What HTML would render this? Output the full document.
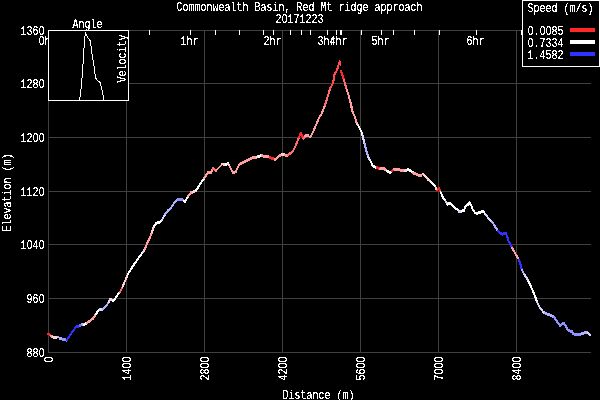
<!DOCTYPE html>
<html><head><meta charset="utf-8"><title>Commonwealth Basin, Red Mt ridge approach</title>
<style>html,body{margin:0;padding:0;background:#000;overflow:hidden;width:600px;height:400px}
svg{display:block;will-change:transform}
text{font-family:"Liberation Mono",monospace}</style></head>
<body>
<svg width="600" height="400" viewBox="0 0 600 400">
<defs><filter id="crisp" filterUnits="userSpaceOnUse" x="0" y="0" width="600" height="400"><feComponentTransfer><feFuncA type="discrete" tableValues="0 0 0 0 0 0 0 0 0 0 0 0 0 0 0 0 0 0 0 0 0 0 0 0 0 0 0 0 0 0 0 0 0 0 0 0 0 0 0 0 0 0 1 1 1 1 1 1 1 1 1 1 1 1 1 1 1 1 1 1 1 1 1 1 1 1 1 1 1 1 1 1 1 1 1 1 1 1 1 1 1 1 1 1 1 1 1 1 1 1 1 1 1 1 1 1 1 1 1 1"/></feComponentTransfer></filter></defs>
<rect x="0" y="0" width="600" height="400" fill="#000"/>
<path d="M126.5 30V352 M204.5 30V352 M282.5 30V352 M360.5 30V352 M438.5 30V352 M516.5 30V352 M48 83.5H591 M48 137.5H591 M48 191.5H591 M48 244.5H591 M48 298.5H591 M48.5 30V353 M48 352.5H591 M48 30.5H522" stroke="#404040" stroke-width="1" fill="none"/>
<path d="M149.5 30V35 M190.5 30V35 M215.5 30V35 M239.5 30V35 M263.5 30V35 M273.5 30V35 M290.5 30V35 M301.5 30V35 M310.5 30V35 M327.5 30V35 M336.5 30V35 M340.5 30V35 M341.5 30V35 M361.5 30V35 M381.5 30V35 M393.5 30V35 M414.5 30V35 M439.5 30V35 M476.5 30V35 M521.5 30V35" stroke="#fff" stroke-width="1" fill="none"/>
<g stroke-width="2.5" stroke-linecap="round" fill="none" shape-rendering="crispEdges">
<line x1="48.50" y1="334.00" x2="51.00" y2="336.00" stroke="rgb(255,40,40)" stroke-width="2.34"/>
<line x1="51.00" y1="336.00" x2="53.00" y2="337.00" stroke="rgb(255,160,160)" stroke-width="2.68"/>
<line x1="53.00" y1="337.00" x2="57.00" y2="337.00" stroke="rgb(255,210,210)" stroke-width="3.00"/>
<line x1="58.00" y1="336.50" x2="60.00" y2="338.50" stroke="rgb(175,175,255)" stroke-width="2.00"/>
<line x1="60.00" y1="338.50" x2="63.00" y2="339.50" stroke="rgb(175,175,255)" stroke-width="2.85"/>
<line x1="63.00" y1="339.50" x2="66.00" y2="340.00" stroke="rgb(145,145,255)" stroke-width="2.96"/>
<line x1="66.00" y1="340.00" x2="67.00" y2="340.00" stroke="rgb(145,145,255)" stroke-width="3.00"/>
<line x1="67.00" y1="340.00" x2="70.00" y2="335.00" stroke="rgb(50,50,255)" stroke-width="2.00"/>
<line x1="70.00" y1="335.00" x2="73.00" y2="331.00" stroke="rgb(50,50,255)" stroke-width="2.00"/>
<line x1="73.00" y1="331.00" x2="76.00" y2="327.00" stroke="rgb(50,50,255)" stroke-width="2.00"/>
<line x1="76.00" y1="327.00" x2="80.00" y2="325.50" stroke="rgb(50,50,255)" stroke-width="2.81"/>
<line x1="80.00" y1="325.50" x2="82.00" y2="324.00" stroke="rgb(110,110,255)" stroke-width="2.40"/>
<line x1="82.00" y1="324.00" x2="84.00" y2="325.00" stroke="rgb(175,175,255)" stroke-width="2.68"/>
<line x1="84.00" y1="325.00" x2="87.00" y2="323.00" stroke="rgb(255,255,255)" stroke-width="2.50"/>
<line x1="87.00" y1="323.00" x2="90.00" y2="321.00" stroke="rgb(255,160,160)" stroke-width="2.50"/>
<line x1="90.00" y1="321.00" x2="93.00" y2="318.50" stroke="rgb(255,160,160)" stroke-width="2.30"/>
<line x1="93.00" y1="318.50" x2="96.00" y2="314.00" stroke="rgb(255,160,160)" stroke-width="2.00"/>
<line x1="96.00" y1="314.00" x2="98.00" y2="311.00" stroke="rgb(255,255,255)" stroke-width="2.00"/>
<line x1="98.00" y1="311.00" x2="100.00" y2="309.50" stroke="rgb(255,255,255)" stroke-width="2.40"/>
<line x1="100.00" y1="309.50" x2="103.00" y2="309.00" stroke="rgb(215,215,255)" stroke-width="2.96"/>
<line x1="103.00" y1="309.00" x2="106.00" y2="306.00" stroke="rgb(175,175,255)" stroke-width="2.00"/>
<line x1="106.00" y1="306.00" x2="109.00" y2="302.00" stroke="rgb(175,175,255)" stroke-width="2.00"/>
<line x1="109.00" y1="302.00" x2="110.00" y2="299.00" stroke="rgb(215,215,255)" stroke-width="2.09"/>
<line x1="110.00" y1="299.00" x2="113.00" y2="301.00" stroke="rgb(255,210,210)" stroke-width="2.50"/>
<line x1="113.00" y1="301.00" x2="116.00" y2="297.50" stroke="rgb(255,255,255)" stroke-width="2.00"/>
<line x1="116.00" y1="297.50" x2="118.00" y2="294.00" stroke="rgb(255,255,255)" stroke-width="2.00"/>
<line x1="118.00" y1="294.00" x2="120.00" y2="292.00" stroke="rgb(255,255,255)" stroke-width="2.00"/>
<line x1="120.00" y1="292.00" x2="122.50" y2="287.00" stroke="rgb(255,110,110)" stroke-width="2.00"/>
<line x1="122.50" y1="287.00" x2="124.00" y2="283.00" stroke="rgb(255,210,210)" stroke-width="2.06"/>
<line x1="124.00" y1="283.00" x2="125.00" y2="281.00" stroke="rgb(255,210,210)" stroke-width="2.00"/>
<line x1="125.00" y1="281.00" x2="128.00" y2="274.00" stroke="rgb(255,210,210)" stroke-width="2.02"/>
<line x1="128.00" y1="274.00" x2="132.00" y2="267.50" stroke="rgb(255,255,255)" stroke-width="2.00"/>
<line x1="132.00" y1="267.50" x2="135.00" y2="263.00" stroke="rgb(255,255,255)" stroke-width="2.00"/>
<line x1="135.00" y1="263.00" x2="140.00" y2="256.00" stroke="rgb(255,255,255)" stroke-width="2.00"/>
<line x1="140.00" y1="256.00" x2="143.00" y2="252.00" stroke="rgb(255,255,255)" stroke-width="2.00"/>
<line x1="143.00" y1="252.00" x2="145.00" y2="249.00" stroke="rgb(215,215,255)" stroke-width="2.00"/>
<line x1="145.00" y1="249.00" x2="147.00" y2="243.50" stroke="rgb(255,160,160)" stroke-width="2.07"/>
<line x1="147.00" y1="243.50" x2="149.50" y2="238.50" stroke="rgb(255,160,160)" stroke-width="2.00"/>
<line x1="149.50" y1="238.50" x2="152.00" y2="232.00" stroke="rgb(255,160,160)" stroke-width="2.05"/>
<line x1="152.00" y1="232.00" x2="154.00" y2="226.00" stroke="rgb(255,210,210)" stroke-width="2.09"/>
<line x1="154.00" y1="226.00" x2="156.00" y2="223.50" stroke="rgb(255,255,255)" stroke-width="2.00"/>
<line x1="156.00" y1="223.50" x2="159.00" y2="222.50" stroke="rgb(255,255,255)" stroke-width="2.85"/>
<line x1="159.00" y1="222.50" x2="162.00" y2="220.00" stroke="rgb(255,255,255)" stroke-width="2.30"/>
<line x1="162.00" y1="220.00" x2="165.00" y2="214.50" stroke="rgb(215,215,255)" stroke-width="2.00"/>
<line x1="165.00" y1="214.50" x2="168.00" y2="210.50" stroke="rgb(175,175,255)" stroke-width="2.00"/>
<line x1="168.00" y1="210.50" x2="171.00" y2="208.00" stroke="rgb(175,175,255)" stroke-width="2.30"/>
<line x1="171.00" y1="208.00" x2="173.00" y2="204.50" stroke="rgb(175,175,255)" stroke-width="2.00"/>
<line x1="173.00" y1="204.50" x2="176.00" y2="201.00" stroke="rgb(175,175,255)" stroke-width="2.00"/>
<line x1="176.00" y1="201.00" x2="178.00" y2="199.50" stroke="rgb(175,175,255)" stroke-width="2.40"/>
<line x1="178.00" y1="199.50" x2="181.00" y2="199.00" stroke="rgb(145,145,255)" stroke-width="2.96"/>
<line x1="181.00" y1="199.00" x2="184.00" y2="201.00" stroke="rgb(145,145,255)" stroke-width="2.50"/>
<line x1="184.00" y1="201.00" x2="185.00" y2="201.50" stroke="rgb(255,255,255)" stroke-width="2.68"/>
<line x1="185.00" y1="201.50" x2="188.00" y2="196.50" stroke="rgb(255,255,255)" stroke-width="2.00"/>
<line x1="188.00" y1="196.50" x2="191.00" y2="192.50" stroke="rgb(255,160,160)" stroke-width="2.00"/>
<line x1="191.00" y1="192.50" x2="193.00" y2="192.00" stroke="rgb(255,160,160)" stroke-width="2.91"/>
<line x1="193.00" y1="192.00" x2="196.00" y2="190.50" stroke="rgb(255,210,210)" stroke-width="2.68"/>
<line x1="196.00" y1="190.50" x2="198.00" y2="187.50" stroke="rgb(255,255,255)" stroke-width="2.00"/>
<line x1="198.00" y1="187.50" x2="200.50" y2="183.50" stroke="rgb(255,255,255)" stroke-width="2.00"/>
<line x1="200.50" y1="183.50" x2="204.00" y2="178.50" stroke="rgb(255,255,255)" stroke-width="2.00"/>
<line x1="204.00" y1="178.50" x2="208.00" y2="172.50" stroke="rgb(255,160,160)" stroke-width="2.00"/>
<line x1="208.00" y1="172.50" x2="211.00" y2="173.00" stroke="rgb(255,160,160)" stroke-width="2.96"/>
<line x1="211.00" y1="173.00" x2="213.00" y2="168.50" stroke="rgb(255,160,160)" stroke-width="2.01"/>
<line x1="213.00" y1="168.50" x2="216.00" y2="170.50" stroke="rgb(255,110,110)" stroke-width="2.50"/>
<line x1="216.00" y1="170.50" x2="219.00" y2="167.50" stroke="rgb(255,160,160)" stroke-width="2.00"/>
<line x1="219.00" y1="167.50" x2="222.50" y2="164.00" stroke="rgb(255,160,160)" stroke-width="2.00"/>
<line x1="222.50" y1="164.00" x2="226.00" y2="164.50" stroke="rgb(255,210,210)" stroke-width="2.97"/>
<line x1="226.00" y1="164.50" x2="228.00" y2="163.50" stroke="rgb(255,255,255)" stroke-width="2.68"/>
<line x1="228.00" y1="163.50" x2="230.00" y2="167.00" stroke="rgb(255,210,210)" stroke-width="2.00"/>
<line x1="230.00" y1="167.00" x2="232.00" y2="171.00" stroke="rgb(255,160,160)" stroke-width="2.00"/>
<line x1="232.00" y1="171.00" x2="233.00" y2="173.00" stroke="rgb(255,160,160)" stroke-width="2.00"/>
<line x1="233.00" y1="173.00" x2="235.50" y2="172.00" stroke="rgb(255,160,160)" stroke-width="2.79"/>
<line x1="235.50" y1="172.00" x2="239.00" y2="165.00" stroke="rgb(255,160,160)" stroke-width="2.00"/>
<line x1="239.00" y1="165.00" x2="240.50" y2="163.50" stroke="rgb(255,160,160)" stroke-width="2.00"/>
<line x1="240.50" y1="163.50" x2="245.00" y2="161.50" stroke="rgb(255,160,160)" stroke-width="2.74"/>
<line x1="245.00" y1="161.50" x2="249.50" y2="159.50" stroke="rgb(255,160,160)" stroke-width="2.74"/>
<line x1="249.50" y1="159.50" x2="253.00" y2="157.50" stroke="rgb(255,160,160)" stroke-width="2.60"/>
<line x1="253.00" y1="157.50" x2="257.00" y2="157.00" stroke="rgb(255,160,160)" stroke-width="2.98"/>
<line x1="257.00" y1="157.00" x2="259.00" y2="156.50" stroke="rgb(255,210,210)" stroke-width="2.91"/>
<line x1="259.00" y1="156.50" x2="262.00" y2="155.50" stroke="rgb(255,255,255)" stroke-width="2.85"/>
<line x1="262.00" y1="155.50" x2="264.00" y2="156.50" stroke="rgb(255,160,160)" stroke-width="2.68"/>
<line x1="264.00" y1="156.50" x2="267.00" y2="156.50" stroke="rgb(255,160,160)" stroke-width="3.00"/>
<line x1="267.00" y1="156.50" x2="270.00" y2="157.50" stroke="rgb(255,160,160)" stroke-width="2.85"/>
<line x1="270.00" y1="157.50" x2="273.00" y2="158.75" stroke="rgb(255,40,40)" stroke-width="2.77"/>
<line x1="273.00" y1="158.75" x2="275.00" y2="159.50" stroke="rgb(255,40,40)" stroke-width="2.81"/>
<line x1="275.00" y1="159.50" x2="278.00" y2="157.00" stroke="rgb(255,160,160)" stroke-width="2.30"/>
<line x1="278.00" y1="157.00" x2="282.00" y2="154.00" stroke="rgb(255,160,160)" stroke-width="2.40"/>
<line x1="282.00" y1="154.00" x2="285.00" y2="155.00" stroke="rgb(255,210,210)" stroke-width="2.85"/>
<line x1="285.00" y1="155.00" x2="288.00" y2="155.00" stroke="rgb(255,160,160)" stroke-width="3.00"/>
<line x1="288.00" y1="155.00" x2="291.00" y2="153.00" stroke="rgb(255,110,110)" stroke-width="2.50"/>
<line x1="291.00" y1="153.00" x2="293.00" y2="151.00" stroke="rgb(255,110,110)" stroke-width="2.00"/>
<line x1="293.00" y1="151.00" x2="295.00" y2="147.00" stroke="rgb(255,110,110)" stroke-width="2.00"/>
<line x1="295.00" y1="147.00" x2="297.00" y2="142.50" stroke="rgb(255,110,110)" stroke-width="2.01"/>
<line x1="297.00" y1="142.50" x2="299.00" y2="137.50" stroke="rgb(255,110,110)" stroke-width="2.04"/>
<line x1="299.00" y1="137.50" x2="300.00" y2="134.50" stroke="rgb(255,40,40)" stroke-width="2.09"/>
<line x1="300.00" y1="134.50" x2="301.00" y2="132.50" stroke="rgb(255,40,40)" stroke-width="2.00"/>
<line x1="301.00" y1="132.50" x2="302.00" y2="135.50" stroke="rgb(255,40,40)" stroke-width="2.09"/>
<line x1="302.00" y1="135.50" x2="303.50" y2="138.50" stroke="rgb(255,40,40)" stroke-width="2.00"/>
<line x1="303.50" y1="138.50" x2="305.50" y2="136.00" stroke="rgb(255,110,110)" stroke-width="2.00"/>
<line x1="305.50" y1="136.00" x2="308.00" y2="135.50" stroke="rgb(255,160,160)" stroke-width="2.94"/>
<line x1="308.00" y1="135.50" x2="310.00" y2="137.50" stroke="rgb(255,160,160)" stroke-width="2.00"/>
<line x1="310.00" y1="137.50" x2="312.50" y2="133.00" stroke="rgb(255,160,160)" stroke-width="2.00"/>
<line x1="312.50" y1="133.00" x2="314.50" y2="128.50" stroke="rgb(255,160,160)" stroke-width="2.01"/>
<line x1="314.50" y1="128.50" x2="319.00" y2="118.00" stroke="rgb(255,160,160)" stroke-width="2.02"/>
<line x1="319.00" y1="118.00" x2="322.00" y2="113.00" stroke="rgb(255,160,160)" stroke-width="2.00"/>
<line x1="322.00" y1="113.00" x2="325.00" y2="105.00" stroke="rgb(255,160,160)" stroke-width="2.06"/>
<line x1="325.00" y1="105.00" x2="328.50" y2="94.00" stroke="rgb(255,110,110)" stroke-width="2.10"/>
<line x1="328.50" y1="94.00" x2="330.00" y2="88.50" stroke="rgb(255,110,110)" stroke-width="2.12"/>
<line x1="330.00" y1="88.50" x2="332.50" y2="84.00" stroke="rgb(255,75,75)" stroke-width="2.00"/>
<line x1="332.50" y1="84.00" x2="333.80" y2="79.00" stroke="rgb(255,75,75)" stroke-width="2.13"/>
<line x1="333.80" y1="79.00" x2="334.50" y2="74.00" stroke="rgb(255,75,75)" stroke-width="2.18"/>
<line x1="334.50" y1="74.00" x2="336.50" y2="71.00" stroke="rgb(255,75,75)" stroke-width="2.00"/>
<line x1="336.50" y1="71.00" x2="338.00" y2="67.00" stroke="rgb(255,75,75)" stroke-width="2.06"/>
<line x1="338.00" y1="67.00" x2="339.00" y2="63.00" stroke="rgb(255,75,75)" stroke-width="2.13"/>
<line x1="339.00" y1="63.00" x2="339.70" y2="61.50" stroke="rgb(255,75,75)" stroke-width="2.00"/>
<line x1="339.70" y1="61.50" x2="340.50" y2="64.50" stroke="rgb(255,75,75)" stroke-width="2.13"/>
<line x1="341.00" y1="71.00" x2="342.50" y2="75.50" stroke="rgb(255,40,40)" stroke-width="2.09"/>
<line x1="342.50" y1="75.50" x2="344.00" y2="80.00" stroke="rgb(255,40,40)" stroke-width="2.09"/>
<line x1="344.00" y1="80.00" x2="345.00" y2="84.00" stroke="rgb(255,110,110)" stroke-width="2.13"/>
<line x1="345.00" y1="84.00" x2="346.50" y2="89.00" stroke="rgb(255,110,110)" stroke-width="2.11"/>
<line x1="346.50" y1="89.00" x2="348.50" y2="95.00" stroke="rgb(255,160,160)" stroke-width="2.09"/>
<line x1="348.50" y1="95.00" x2="350.00" y2="101.00" stroke="rgb(255,160,160)" stroke-width="2.13"/>
<line x1="350.00" y1="101.00" x2="351.20" y2="105.00" stroke="rgb(255,160,160)" stroke-width="2.11"/>
<line x1="351.20" y1="105.00" x2="352.00" y2="110.00" stroke="rgb(255,160,160)" stroke-width="2.17"/>
<line x1="352.00" y1="110.00" x2="353.50" y2="114.00" stroke="rgb(255,160,160)" stroke-width="2.06"/>
<line x1="353.50" y1="114.00" x2="355.00" y2="117.00" stroke="rgb(255,160,160)" stroke-width="2.00"/>
<line x1="355.00" y1="117.00" x2="356.00" y2="121.00" stroke="rgb(255,160,160)" stroke-width="2.13"/>
<line x1="356.00" y1="121.00" x2="357.00" y2="124.00" stroke="rgb(255,160,160)" stroke-width="2.09"/>
<line x1="357.00" y1="124.00" x2="358.50" y2="126.00" stroke="rgb(255,210,210)" stroke-width="2.00"/>
<line x1="358.50" y1="126.00" x2="360.00" y2="129.00" stroke="rgb(255,255,255)" stroke-width="2.00"/>
<line x1="360.00" y1="129.00" x2="361.50" y2="132.00" stroke="rgb(255,255,255)" stroke-width="2.00"/>
<line x1="361.50" y1="132.00" x2="362.50" y2="135.50" stroke="rgb(255,255,255)" stroke-width="2.12"/>
<line x1="362.50" y1="135.50" x2="364.60" y2="143.50" stroke="rgb(215,215,255)" stroke-width="2.13"/>
<line x1="364.60" y1="143.50" x2="366.20" y2="150.00" stroke="rgb(175,175,255)" stroke-width="2.14"/>
<line x1="366.20" y1="150.00" x2="368.00" y2="156.50" stroke="rgb(175,175,255)" stroke-width="2.12"/>
<line x1="368.00" y1="156.50" x2="370.20" y2="160.50" stroke="rgb(215,215,255)" stroke-width="2.00"/>
<line x1="370.20" y1="160.50" x2="372.40" y2="165.00" stroke="rgb(255,255,255)" stroke-width="2.00"/>
<line x1="372.40" y1="165.00" x2="374.00" y2="166.50" stroke="rgb(255,255,255)" stroke-width="2.19"/>
<line x1="374.00" y1="166.50" x2="377.00" y2="167.70" stroke="rgb(255,255,255)" stroke-width="2.79"/>
<line x1="377.00" y1="167.70" x2="380.00" y2="169.00" stroke="rgb(255,40,40)" stroke-width="2.75"/>
<line x1="380.00" y1="169.00" x2="384.00" y2="168.80" stroke="rgb(255,160,160)" stroke-width="3.00"/>
<line x1="384.00" y1="168.80" x2="387.00" y2="171.00" stroke="rgb(255,160,160)" stroke-width="2.42"/>
<line x1="387.00" y1="171.00" x2="390.00" y2="173.00" stroke="rgb(255,255,255)" stroke-width="2.50"/>
<line x1="390.00" y1="173.00" x2="392.00" y2="171.00" stroke="rgb(255,255,255)" stroke-width="2.00"/>
<line x1="392.00" y1="171.00" x2="394.00" y2="169.00" stroke="rgb(255,40,40)" stroke-width="2.00"/>
<line x1="394.00" y1="169.00" x2="400.00" y2="170.00" stroke="rgb(255,160,160)" stroke-width="2.96"/>
<line x1="400.00" y1="170.00" x2="405.00" y2="171.00" stroke="rgb(255,160,160)" stroke-width="2.94"/>
<line x1="405.00" y1="171.00" x2="408.00" y2="169.50" stroke="rgb(255,210,210)" stroke-width="2.68"/>
<line x1="408.00" y1="169.50" x2="411.50" y2="171.50" stroke="rgb(255,255,255)" stroke-width="2.60"/>
<line x1="411.50" y1="171.50" x2="413.50" y2="173.00" stroke="rgb(255,255,255)" stroke-width="2.40"/>
<line x1="413.50" y1="173.00" x2="417.00" y2="174.50" stroke="rgb(255,160,160)" stroke-width="2.76"/>
<line x1="417.00" y1="174.50" x2="420.50" y2="176.00" stroke="rgb(255,160,160)" stroke-width="2.76"/>
<line x1="420.50" y1="176.00" x2="423.00" y2="173.50" stroke="rgb(255,160,160)" stroke-width="2.00"/>
<line x1="423.00" y1="173.50" x2="425.00" y2="176.00" stroke="rgb(255,210,210)" stroke-width="2.00"/>
<line x1="425.00" y1="176.00" x2="428.00" y2="179.50" stroke="rgb(255,210,210)" stroke-width="2.00"/>
<line x1="428.00" y1="179.50" x2="431.00" y2="182.00" stroke="rgb(255,210,210)" stroke-width="2.30"/>
<line x1="431.00" y1="182.00" x2="433.00" y2="184.00" stroke="rgb(255,255,255)" stroke-width="2.00"/>
<line x1="433.00" y1="184.00" x2="435.50" y2="187.00" stroke="rgb(255,255,255)" stroke-width="2.00"/>
<line x1="435.50" y1="187.00" x2="437.00" y2="190.50" stroke="rgb(255,210,210)" stroke-width="2.02"/>
<line x1="437.00" y1="190.50" x2="439.00" y2="188.00" stroke="rgb(255,40,40)" stroke-width="2.00"/>
<line x1="439.00" y1="188.00" x2="440.50" y2="192.00" stroke="rgb(255,40,40)" stroke-width="2.06"/>
<line x1="440.50" y1="192.00" x2="443.00" y2="197.50" stroke="rgb(255,255,255)" stroke-width="2.00"/>
<line x1="443.00" y1="197.50" x2="445.60" y2="201.00" stroke="rgb(255,255,255)" stroke-width="2.00"/>
<line x1="445.60" y1="201.00" x2="447.50" y2="204.40" stroke="rgb(215,215,255)" stroke-width="2.00"/>
<line x1="447.50" y1="204.40" x2="449.40" y2="203.00" stroke="rgb(255,255,255)" stroke-width="2.42"/>
<line x1="449.40" y1="203.00" x2="452.00" y2="205.00" stroke="rgb(255,255,255)" stroke-width="2.38"/>
<line x1="452.00" y1="205.00" x2="454.00" y2="207.00" stroke="rgb(255,255,255)" stroke-width="2.00"/>
<line x1="454.00" y1="207.00" x2="457.00" y2="209.40" stroke="rgb(255,255,255)" stroke-width="2.34"/>
<line x1="457.00" y1="209.40" x2="459.00" y2="211.25" stroke="rgb(255,255,255)" stroke-width="2.20"/>
<line x1="459.00" y1="211.25" x2="462.00" y2="211.00" stroke="rgb(215,215,255)" stroke-width="2.99"/>
<line x1="462.00" y1="211.00" x2="464.00" y2="210.25" stroke="rgb(255,255,255)" stroke-width="2.81"/>
<line x1="464.00" y1="210.25" x2="465.60" y2="206.25" stroke="rgb(255,255,255)" stroke-width="2.04"/>
<line x1="465.60" y1="206.25" x2="467.50" y2="205.00" stroke="rgb(255,255,255)" stroke-width="2.51"/>
<line x1="467.50" y1="205.00" x2="469.40" y2="202.50" stroke="rgb(255,255,255)" stroke-width="2.00"/>
<line x1="469.40" y1="202.50" x2="471.25" y2="205.60" stroke="rgb(255,255,255)" stroke-width="2.00"/>
<line x1="471.25" y1="205.60" x2="473.00" y2="210.00" stroke="rgb(255,255,255)" stroke-width="2.04"/>
<line x1="473.00" y1="210.00" x2="475.00" y2="212.50" stroke="rgb(255,255,255)" stroke-width="2.00"/>
<line x1="475.00" y1="212.50" x2="477.00" y2="214.40" stroke="rgb(255,255,255)" stroke-width="2.17"/>
<line x1="477.00" y1="214.40" x2="479.00" y2="212.50" stroke="rgb(255,255,255)" stroke-width="2.17"/>
<line x1="479.00" y1="212.50" x2="481.00" y2="212.00" stroke="rgb(255,255,255)" stroke-width="2.91"/>
<line x1="481.00" y1="212.00" x2="483.00" y2="211.25" stroke="rgb(255,255,255)" stroke-width="2.81"/>
<line x1="483.00" y1="211.25" x2="485.60" y2="214.40" stroke="rgb(255,255,255)" stroke-width="2.00"/>
<line x1="485.60" y1="214.40" x2="488.75" y2="218.75" stroke="rgb(215,215,255)" stroke-width="2.00"/>
<line x1="488.75" y1="218.75" x2="491.90" y2="221.50" stroke="rgb(215,215,255)" stroke-width="2.26"/>
<line x1="491.90" y1="221.50" x2="494.60" y2="225.80" stroke="rgb(175,175,255)" stroke-width="2.00"/>
<line x1="494.60" y1="225.80" x2="498.00" y2="231.00" stroke="rgb(175,175,255)" stroke-width="2.00"/>
<line x1="498.00" y1="231.00" x2="500.00" y2="233.00" stroke="rgb(50,50,255)" stroke-width="2.00"/>
<line x1="500.00" y1="233.00" x2="502.50" y2="234.20" stroke="rgb(50,50,255)" stroke-width="2.70"/>
<line x1="502.50" y1="234.20" x2="505.50" y2="233.50" stroke="rgb(50,50,255)" stroke-width="2.92"/>
<line x1="505.50" y1="233.50" x2="507.00" y2="235.70" stroke="rgb(50,50,255)" stroke-width="2.00"/>
<line x1="507.00" y1="235.70" x2="508.50" y2="241.00" stroke="rgb(50,50,255)" stroke-width="2.12"/>
<line x1="508.50" y1="241.00" x2="510.00" y2="243.50" stroke="rgb(50,50,255)" stroke-width="2.00"/>
<line x1="510.00" y1="243.50" x2="512.20" y2="247.70" stroke="rgb(50,50,255)" stroke-width="2.00"/>
<line x1="512.20" y1="247.70" x2="514.50" y2="252.20" stroke="rgb(255,160,160)" stroke-width="2.00"/>
<line x1="514.50" y1="252.20" x2="516.70" y2="256.00" stroke="rgb(255,160,160)" stroke-width="2.00"/>
<line x1="516.70" y1="256.00" x2="519.00" y2="259.70" stroke="rgb(255,160,160)" stroke-width="2.00"/>
<line x1="519.00" y1="259.70" x2="520.50" y2="264.20" stroke="rgb(50,50,255)" stroke-width="2.09"/>
<line x1="520.50" y1="264.20" x2="522.00" y2="270.20" stroke="rgb(50,50,255)" stroke-width="2.13"/>
<line x1="522.00" y1="270.20" x2="524.50" y2="274.70" stroke="rgb(175,175,255)" stroke-width="2.00"/>
<line x1="524.50" y1="274.70" x2="527.50" y2="279.20" stroke="rgb(215,215,255)" stroke-width="2.00"/>
<line x1="527.50" y1="279.20" x2="528.40" y2="281.30" stroke="rgb(215,215,255)" stroke-width="2.02"/>
<line x1="528.40" y1="281.30" x2="532.00" y2="288.80" stroke="rgb(255,255,255)" stroke-width="2.00"/>
<line x1="532.00" y1="288.80" x2="535.00" y2="296.30" stroke="rgb(255,255,255)" stroke-width="2.04"/>
<line x1="535.00" y1="296.30" x2="537.00" y2="302.00" stroke="rgb(255,255,255)" stroke-width="2.08"/>
<line x1="537.00" y1="302.00" x2="539.70" y2="307.50" stroke="rgb(215,215,255)" stroke-width="2.00"/>
<line x1="539.70" y1="307.50" x2="543.50" y2="312.20" stroke="rgb(215,215,255)" stroke-width="2.00"/>
<line x1="543.50" y1="312.20" x2="545.00" y2="313.00" stroke="rgb(215,215,255)" stroke-width="2.65"/>
<line x1="545.00" y1="313.00" x2="548.00" y2="314.50" stroke="rgb(175,175,255)" stroke-width="2.68"/>
<line x1="548.00" y1="314.50" x2="551.00" y2="315.50" stroke="rgb(175,175,255)" stroke-width="2.85"/>
<line x1="551.00" y1="315.50" x2="554.00" y2="317.00" stroke="rgb(175,175,255)" stroke-width="2.68"/>
<line x1="554.00" y1="317.00" x2="556.00" y2="320.00" stroke="rgb(145,145,255)" stroke-width="2.00"/>
<line x1="556.00" y1="320.00" x2="558.00" y2="323.00" stroke="rgb(145,145,255)" stroke-width="2.00"/>
<line x1="558.00" y1="323.00" x2="560.00" y2="325.50" stroke="rgb(145,145,255)" stroke-width="2.00"/>
<line x1="560.00" y1="325.50" x2="562.00" y2="324.00" stroke="rgb(145,145,255)" stroke-width="2.40"/>
<line x1="562.00" y1="324.00" x2="564.00" y2="323.50" stroke="rgb(145,145,255)" stroke-width="2.91"/>
<line x1="564.00" y1="323.50" x2="566.00" y2="326.50" stroke="rgb(145,145,255)" stroke-width="2.00"/>
<line x1="566.00" y1="326.50" x2="567.50" y2="329.50" stroke="rgb(145,145,255)" stroke-width="2.00"/>
<line x1="567.50" y1="329.50" x2="570.00" y2="331.00" stroke="rgb(145,145,255)" stroke-width="2.57"/>
<line x1="570.00" y1="331.00" x2="572.00" y2="331.50" stroke="rgb(145,145,255)" stroke-width="2.91"/>
<line x1="572.00" y1="331.50" x2="573.50" y2="334.00" stroke="rgb(145,145,255)" stroke-width="2.00"/>
<line x1="573.50" y1="334.00" x2="578.00" y2="334.50" stroke="rgb(145,145,255)" stroke-width="2.98"/>
<line x1="578.00" y1="334.50" x2="581.00" y2="334.00" stroke="rgb(145,145,255)" stroke-width="2.96"/>
<line x1="581.00" y1="334.00" x2="584.00" y2="333.00" stroke="rgb(175,175,255)" stroke-width="2.85"/>
<line x1="584.00" y1="333.00" x2="586.00" y2="332.00" stroke="rgb(175,175,255)" stroke-width="2.68"/>
<line x1="586.00" y1="332.00" x2="588.00" y2="333.00" stroke="rgb(175,175,255)" stroke-width="2.68"/>
<line x1="588.00" y1="333.00" x2="589.80" y2="335.00" stroke="rgb(215,215,255)" stroke-width="2.00"/>
</g>
<g font-family="Liberation Mono" font-size="12" fill="#fff" filter="url(#crisp)">
<text transform="translate(0,11.00) scale(0.83333,1)" x="215.400 222.600 229.800 237.000 244.200 251.400 258.600 265.800 273.000 280.200 287.400 294.600 301.800 309.000 316.200 323.400 330.600 337.800 345.000 352.200 359.400 366.600 373.800 381.000 388.200 395.400 402.600 409.800 417.000 424.200 431.400 438.600 445.800 453.000 460.200 467.400 474.600 481.800 489.000 496.200 503.400" y="0" text-anchor="middle">Commonwealth Basin, Red Mt ridge approach</text>
<text transform="translate(0,23.00) scale(0.83333,1)" x="334.200 341.400 348.600 355.800 363.000 370.200 377.400 384.600" y="0" text-anchor="middle">2<tspan font-family="Liberation Sans" font-size="12.0">0</tspan>171223</text>
<text transform="translate(0,35.00) scale(0.83333,1)" x="28.200 35.400 42.600 49.800" y="0" text-anchor="middle">136<tspan font-family="Liberation Sans" font-size="12.0">0</tspan></text>
<text transform="translate(0,88.00) scale(0.83333,1)" x="28.200 35.400 42.600 49.800" y="0" text-anchor="middle">128<tspan font-family="Liberation Sans" font-size="12.0">0</tspan></text>
<text transform="translate(0,142.00) scale(0.83333,1)" x="28.200 35.400 42.600 49.800" y="0" text-anchor="middle">12<tspan font-family="Liberation Sans" font-size="12.0">0</tspan><tspan font-family="Liberation Sans" font-size="12.0">0</tspan></text>
<text transform="translate(0,196.00) scale(0.83333,1)" x="28.200 35.400 42.600 49.800" y="0" text-anchor="middle">112<tspan font-family="Liberation Sans" font-size="12.0">0</tspan></text>
<text transform="translate(0,249.00) scale(0.83333,1)" x="28.200 35.400 42.600 49.800" y="0" text-anchor="middle">1<tspan font-family="Liberation Sans" font-size="12.0">0</tspan>4<tspan font-family="Liberation Sans" font-size="12.0">0</tspan></text>
<text transform="translate(0,303.00) scale(0.83333,1)" x="35.400 42.600 49.800" y="0" text-anchor="middle">96<tspan font-family="Liberation Sans" font-size="12.0">0</tspan></text>
<text transform="translate(0,357.00) scale(0.83333,1)" x="35.400 42.600 49.800" y="0" text-anchor="middle">88<tspan font-family="Liberation Sans" font-size="12.0">0</tspan></text>
<text transform="translate(0,45.00) scale(0.83333,1)" x="49.800 57.000 64.200" y="0" text-anchor="middle"><tspan font-family="Liberation Sans" font-size="12.0">0</tspan>hr</text>
<text transform="translate(0,45.00) scale(0.83333,1)" x="220.200 227.400 234.600" y="0" text-anchor="middle">1hr</text>
<text transform="translate(0,45.00) scale(0.83333,1)" x="319.800 327.000 334.200" y="0" text-anchor="middle">2hr</text>
<text transform="translate(0,45.00) scale(0.83333,1)" x="384.600 391.800 399.000" y="0" text-anchor="middle">3hr</text>
<text transform="translate(0,45.00) scale(0.83333,1)" x="399.000 406.200 413.400" y="0" text-anchor="middle">4hr</text>
<text transform="translate(0,45.00) scale(0.83333,1)" x="449.400 456.600 463.800" y="0" text-anchor="middle">5hr</text>
<text transform="translate(0,45.00) scale(0.83333,1)" x="563.400 570.600 577.800" y="0" text-anchor="middle">6hr</text>
<text transform="translate(53.00,362.00) rotate(-90) scale(0.83333,1)" x="3.000" y="0" text-anchor="middle"><tspan font-family="Liberation Sans" font-size="12.0">0</tspan></text>
<text transform="translate(131.00,380.00) rotate(-90) scale(0.83333,1)" x="3.000 10.200 17.400 24.600" y="0" text-anchor="middle">14<tspan font-family="Liberation Sans" font-size="12.0">0</tspan><tspan font-family="Liberation Sans" font-size="12.0">0</tspan></text>
<text transform="translate(209.00,380.00) rotate(-90) scale(0.83333,1)" x="3.000 10.200 17.400 24.600" y="0" text-anchor="middle">28<tspan font-family="Liberation Sans" font-size="12.0">0</tspan><tspan font-family="Liberation Sans" font-size="12.0">0</tspan></text>
<text transform="translate(287.00,380.00) rotate(-90) scale(0.83333,1)" x="3.000 10.200 17.400 24.600" y="0" text-anchor="middle">42<tspan font-family="Liberation Sans" font-size="12.0">0</tspan><tspan font-family="Liberation Sans" font-size="12.0">0</tspan></text>
<text transform="translate(365.00,380.00) rotate(-90) scale(0.83333,1)" x="3.000 10.200 17.400 24.600" y="0" text-anchor="middle">56<tspan font-family="Liberation Sans" font-size="12.0">0</tspan><tspan font-family="Liberation Sans" font-size="12.0">0</tspan></text>
<text transform="translate(443.00,380.00) rotate(-90) scale(0.83333,1)" x="3.000 10.200 17.400 24.600" y="0" text-anchor="middle">7<tspan font-family="Liberation Sans" font-size="12.0">0</tspan><tspan font-family="Liberation Sans" font-size="12.0">0</tspan><tspan font-family="Liberation Sans" font-size="12.0">0</tspan></text>
<text transform="translate(521.00,380.00) rotate(-90) scale(0.83333,1)" x="3.000 10.200 17.400 24.600" y="0" text-anchor="middle">84<tspan font-family="Liberation Sans" font-size="12.0">0</tspan><tspan font-family="Liberation Sans" font-size="12.0">0</tspan></text>
<text transform="translate(0,399.00) scale(0.83333,1)" x="342.600 349.800 357.000 364.200 371.400 378.600 385.800 393.000 400.200 407.400 414.600 421.800" y="0" text-anchor="middle">Distance (m)</text>
<text transform="translate(11.00,231.00) rotate(-90) scale(0.83333,1)" x="3.000 10.200 17.400 24.600 31.800 39.000 46.200 53.400 60.600 67.800 75.000 82.200 89.400" y="0" text-anchor="middle">Elevation (m)</text>
</g>
<rect x="48.5" y="30.5" width="80" height="70" fill="#000" stroke="#fff" stroke-width="1"/>
<polyline points="79.5,100.0 80.5,94.0 81.5,85.0 82.5,72.0 83.5,56.0 84.5,40.0 85.5,33.0 87.5,37.0 90.5,41.0 91.5,50.0 92.5,57.0 93.5,62.0 94.5,69.0 95.5,78.0 97.0,80.0 100.5,83.0 101.5,88.0 103.0,95.0 104.0,100.0" stroke="#fff" stroke-width="1" fill="none" shape-rendering="crispEdges"/>
<g font-family="Liberation Mono" font-size="12" fill="#fff" filter="url(#crisp)">
<text transform="translate(0,28.00) scale(0.83333,1)" x="90.600 97.800 105.000 112.200 119.400" y="0" text-anchor="middle">Angle</text>
<text transform="translate(126.00,82.00) rotate(-90) scale(0.83333,1)" x="3.000 10.200 17.400 24.600 31.800 39.000 46.200 53.400" y="0" text-anchor="middle">Velocity</text>
</g>
<rect x="522.5" y="0.5" width="77" height="66" fill="#000" stroke="#fff" stroke-width="1"/>
<g font-family="Liberation Mono" font-size="12" fill="#fff" filter="url(#crisp)">
<text transform="translate(0,12.00) scale(0.83333,1)" x="636.600 643.800 651.000 658.200 665.400 672.600 679.800 687.000 694.200 701.400 708.600" y="0" text-anchor="middle">Speed (m/s)</text>
<text transform="translate(0,35.00) scale(0.83333,1)" x="636.600 643.800 651.000 658.200 665.400 672.600" y="0" text-anchor="middle"><tspan font-family="Liberation Sans" font-size="12.0">0</tspan>.<tspan font-family="Liberation Sans" font-size="12.0">0</tspan><tspan font-family="Liberation Sans" font-size="12.0">0</tspan>85</text>
<text transform="translate(0,47.00) scale(0.83333,1)" x="636.600 643.800 651.000 658.200 665.400 672.600" y="0" text-anchor="middle"><tspan font-family="Liberation Sans" font-size="12.0">0</tspan>.7334</text>
<text transform="translate(0,59.00) scale(0.83333,1)" x="636.600 643.800 651.000 658.200 665.400 672.600" y="0" text-anchor="middle">1.4582</text>
</g>
<rect x="570" y="28" width="25" height="4" fill="rgb(255,40,40)"/>
<rect x="570" y="40" width="25" height="4" fill="rgb(255,255,255)"/>
<rect x="570" y="52" width="25" height="4" fill="rgb(50,50,255)"/>
</svg>
</body></html>
